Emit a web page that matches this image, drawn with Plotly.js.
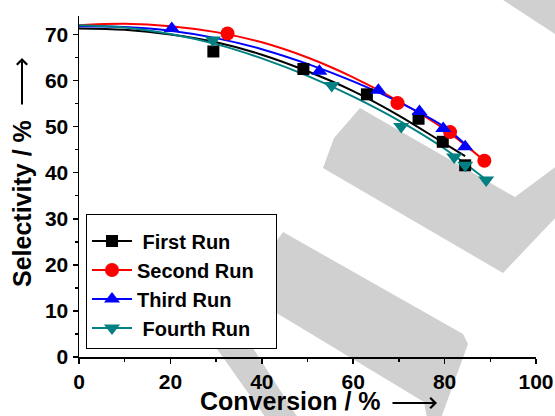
<!DOCTYPE html>
<html>
<head>
<meta charset="utf-8">
<script src="https://cdn.plot.ly/plotly-3.0.1.min.js"></script>
<style>html,body{margin:0;padding:0;background:#fff;}#chart{width:555px;height:416px;}</style>
</head>
<body>
<div id="chart"></div>
<script>
// ---- data ----
const seriesNames = ["First Run", "Second Run", "Third Run", "Fourth Run"];

const firstX  = [29.4, 49.1, 63.0, 74.3, 79.6, 84.5];
const firstY  = [66.3, 62.5, 57.0, 51.7, 46.7, 41.6];
const secondX = [32.5, 69.7, 81.2, 88.7];
const secondY = [70.2, 55.1, 48.8, 42.6];
const thirdX  = [20.3, 52.6, 65.5, 74.5, 79.7, 84.5];
const thirdY  = [71.3, 62.0, 57.9, 53.3, 49.6, 45.6];
const fourthX = [29.3, 55.3, 70.5, 82.1, 84.5, 89.1];
const fourthY = [68.8, 58.9, 50.0, 43.4, 41.6, 38.4];

// fitted curves
const firstFitX  = [0, 10, 20, 30, 40, 50, 60, 70, 80, 84.5];
const firstFitY  = [71.3, 71.0, 70.0, 68.3, 65.6, 62.0, 57.7, 52.4, 46.3, 43.6];
const secondFitX = [0, 10, 20, 30, 40, 50, 60, 70, 80, 88.7];
const secondFitY = [72.0, 72.3, 71.8, 70.5, 68.3, 65.0, 60.7, 55.5, 49.4, 42.6];
const thirdFitX  = [0, 10, 20, 30, 40, 50, 60, 70, 80, 85.2];
const thirdFitY  = [71.8, 71.6, 70.8, 69.2, 66.8, 63.6, 59.8, 55.3, 49.9, 45.5];
const fourthFitX = [0, 10, 20, 30, 40, 50, 60, 70, 80, 89.2];
const fourthFitY = [72.0, 71.5, 70.1, 67.9, 64.8, 61.0, 56.5, 51.3, 45.2, 38.4];

const xTickVals = [0, 20, 40, 60, 80, 100];
const yTickVals = [0, 10, 20, 30, 40, 50, 60, 70];

// ---- styling ----
const colors  = ["#000000", "#ff0000", "#0000ff", "#008080"];
const symbols = ["square", "circle", "triangle-up", "triangle-down"];
const sizes   = [12, 14, 14, 14];
const FONT = "Arial, 'Liberation Sans', sans-serif";

const ptsX = [firstX, secondX, thirdX, fourthX];
const ptsY = [firstY, secondY, thirdY, fourthY];
const fitX = [firstFitX, secondFitX, thirdFitX, fourthFitX];
const fitY = [firstFitY, secondFitY, thirdFitY, fourthFitY];

const traces = [];
for (let i = 0; i < 4; i++) {
  traces.push({x: fitX[i], y: fitY[i], mode: "lines", type: "scatter",
    line: {color: colors[i], width: 2, shape: "spline", smoothing: 1},
    showlegend: false, hoverinfo: "skip"});
}
for (let i = 0; i < 4; i++) {
  traces.push({x: ptsX[i], y: ptsY[i], mode: "markers", type: "scatter",
    marker: {color: colors[i], symbol: symbols[i], size: sizes[i]},
    showlegend: false});
}
// legend entries (line + marker), no plotted points
const legendLabels = ["\u00a0" + seriesNames[0], seriesNames[1] + "\u00a0\u00a0\u00a0", seriesNames[2], "\u00a0" + seriesNames[3]];
for (let i = 0; i < 4; i++) {
  traces.push({x: [null], y: [null], mode: "lines+markers", type: "scatter",
    name: legendLabels[i],
    line: {color: colors[i], width: 2},
    marker: {color: colors[i], symbol: symbols[i], size: sizes[i]}});
}

// plot area in pixels: x 79..536, y 16..357
const L = 79, R = 536, T = 16, B = 357;
function px(x) { return (x - L) / (R - L); }
function py(y) { return (B - y) / (B - T); }
function poly(pts) {
  return "M" + pts.map(p => px(p[0]).toFixed(4) + "," + py(p[1]).toFixed(4)).join(" L") + " Z";
}
// light grey watermark strokes (decoration)
const wmColor = "rgb(208,208,208)";
const watermark = [
  [[360,108],[515,197],[558,165],[558,215],[503,273],[323,168],[334,138]],
  [[500,-2],[558,-2],[558,36]],
  [[283,232],[463,334],[468,344],[441,418],[427,418],[424,402],[255,300],[270,250]],
  [[200,325],[238,325],[298,418],[266,418]]
];
const shapes = watermark.map(p => ({type: "path", xref: "paper", yref: "paper",
  path: poly(p), fillcolor: wmColor, line: {width: 0}, layer: "below"}));

const axisCommon = {showgrid: false, zeroline: false, showline: true, linecolor: "#000",
  linewidth: 1.5, tickcolor: "#000", tickwidth: 1.5, ticklen: 5, ticks: "outside",
  tickfont: {family: FONT, size: 21, color: "#000", weight: "bold"}};

const titleFont = {family: FONT, size: 25, color: "#000", weight: "bold"};

const layout = {
  width: 555, height: 416,
  margin: {l: L, r: 555 - R, t: T, b: 416 - B, pad: 0},
  paper_bgcolor: "#fff", plot_bgcolor: "rgba(0,0,0,0)",
  showlegend: true,
  xaxis: Object.assign({}, axisCommon, {range: [0, 100], tickvals: xTickVals,
    ticktext: xTickVals.map(String),
    minor: {tickvals: [10, 30, 50, 70, 90], ticks: "outside", ticklen: 3, tickwidth: 1.5, tickcolor: "#000", showgrid: false}}),
  yaxis: Object.assign({}, axisCommon, {range: [0, 74], tickvals: yTickVals,
    ticktext: yTickVals.map(String),
    minor: {tickvals: [5, 15, 25, 35, 45, 55, 65], ticks: "outside", ticklen: 3, tickwidth: 1.5, tickcolor: "#000", showgrid: false}}),
  xaxis2: {overlaying: "x", side: "top", anchor: "y", range: [0, 100], dtick: 10, tick0: 0,
    ticks: "inside", ticklen: 4, tickwidth: 1.5, tickcolor: "#000", showticklabels: false,
    showline: true, linecolor: "#000", linewidth: 1.5, showgrid: false, zeroline: false},
  yaxis2: {overlaying: "y", side: "right", anchor: "x", range: [0, 74], dtick: 5, tick0: 0,
    ticks: "inside", ticklen: 4, tickwidth: 1.5, tickcolor: "#000", showticklabels: false,
    showline: true, linecolor: "#000", linewidth: 1.5, showgrid: false, zeroline: false},
  legend: {x: px(86), y: py(214), xanchor: "left", yanchor: "top",
    bgcolor: "#fff", bordercolor: "#000", borderwidth: 1, itemwidth: 40,
    title: {text: "\u00a0", font: {family: FONT, size: 5, color: "#fff"}},
    font: {family: FONT, size: 20, color: "#000", weight: "bold"}},
  shapes: shapes,
  annotations: [
    {xref: "paper", yref: "paper", x: px(22), y: py(204), textangle: -90,
     text: "Selectivity / %", showarrow: false, xanchor: "center", yanchor: "middle",
     font: titleFont},
    {xref: "paper", yref: "paper", x: px(22), y: py(58), ax: 0, ay: 48,
     text: "", showarrow: true, arrowhead: 4, arrowwidth: 2, arrowsize: 1, arrowcolor: "#000"},
    {xref: "paper", yref: "paper", x: px(290), y: py(401),
     text: "Conversion / %", showarrow: false, xanchor: "center", yanchor: "middle",
     font: titleFont},
    {xref: "paper", yref: "paper", x: px(437), y: py(403), ax: -46, ay: 0,
     text: "", showarrow: true, arrowhead: 4, arrowwidth: 2, arrowsize: 1, arrowcolor: "#000"}
  ]
};

Plotly.newPlot("chart", traces, layout, {staticPlot: true, displayModeBar: false});
</script>
</body>
</html>
